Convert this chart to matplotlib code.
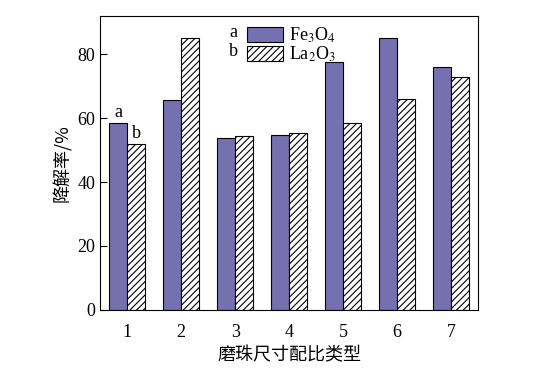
import numpy as np
import matplotlib
matplotlib.use('Agg')
import matplotlib.pyplot as plt

plt.rcParams['font.family'] = ['Liberation Serif', 'Noto Sans CJK SC']
plt.rcParams['mathtext.fontset'] = 'stix'
plt.rcParams['hatch.linewidth'] = 0.8

# data
types = ['1', '2', '3', '4', '5', '6', '7']
fe3o4 = [58.6, 65.6, 53.9, 54.8, 77.7, 85.2, 76.1]
la2o3 = [52.0, 85.2, 54.5, 55.4, 58.6, 66.1, 73.0]

purple = '#7670B0'
w = 0.33
x = np.arange(1, len(types) + 1)

fig = plt.figure(figsize=(5.41, 3.76), dpi=100)
ax = fig.add_axes([0.185, 0.176, 0.699, 0.781])

b1 = ax.bar(x - w / 2, fe3o4, width=w, color=purple, edgecolor='black', linewidth=0.8,
            label='Fe$_3$O$_4$')
b2 = ax.bar(x + w / 2, la2o3, width=w, color='white', edgecolor='black', linewidth=0.8,
            hatch='/////', label='La$_2$O$_3$')

ax.set_xlim(0.5, 7.5)
ax.set_ylim(0, 92)
ax.set_xticks(x)
ax.set_xticklabels(types)
ax.set_yticks([0, 20, 40, 60, 80])
ax.tick_params(axis='y', direction='in', length=5, labelsize=13)
ax.tick_params(axis='x', length=0, labelsize=13, pad=10)

ax.set_ylabel('降解率/%', family=['Noto Sans CJK SC', 'DejaVu Sans'], fontsize=13)
ax.set_xlabel('磨珠尺寸配比类型', family=['Noto Sans CJK SC', 'DejaVu Sans'], fontsize=13,
              labelpad=4)

leg = ax.legend(loc='upper left', bbox_to_anchor=(0.36, 1.005), frameon=False, fontsize=13,
                handlelength=2.0, handleheight=0.9, handletextpad=0.3, labelspacing=0.0,
                borderaxespad=0.2)

ax.text(0.352, 0.946, 'a', transform=ax.transAxes, fontsize=13, ha='center', va='center')
ax.text(0.352, 0.881, 'b', transform=ax.transAxes, fontsize=13, ha='center', va='center')

# labels over the first pair of bars
ax.text(x[0] - w / 2, fe3o4[0] + 0.5, 'a', fontsize=13, ha='center', va='bottom')
ax.text(x[0] + w / 2, la2o3[0] + 0.5, 'b', fontsize=13, ha='center', va='bottom')

fig.savefig('out.png', dpi=100)
